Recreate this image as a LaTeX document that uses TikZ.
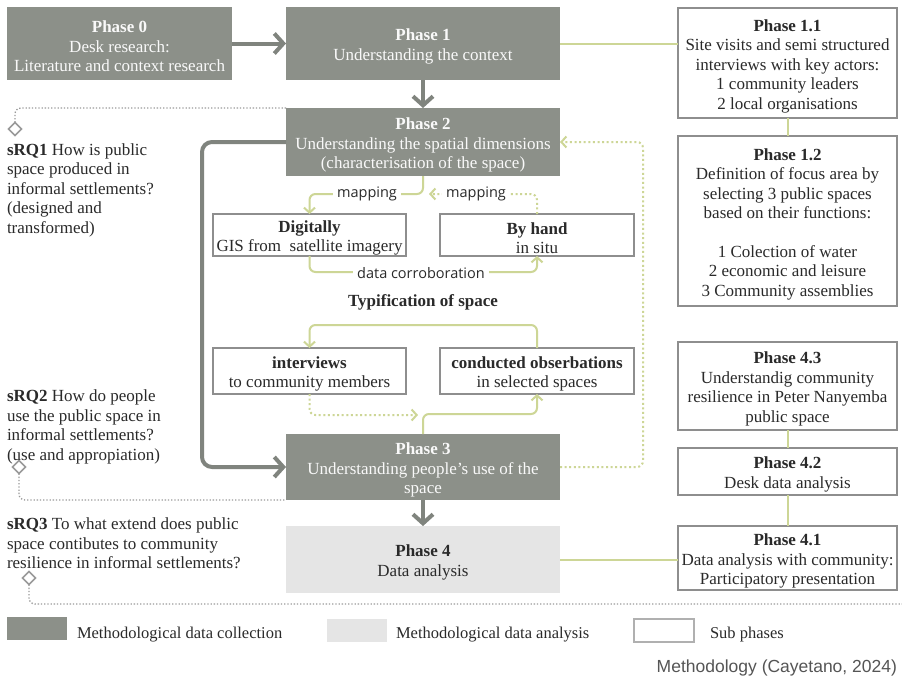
\documentclass[tikz,border=0pt]{standalone}
\usepackage{fontspec}
\setmainfont{Liberation Serif}
\newfontfamily\mapfont{Open Sans}
\newfontfamily\capfont{Liberation Sans}
\usetikzlibrary{arrows.meta,shapes.geometric}
\definecolor{dark}{HTML}{8C9089}
\definecolor{light}{HTML}{E5E5E5}
\definecolor{bord}{HTML}{8E8E8E}
\definecolor{grn}{HTML}{CDD696}
\definecolor{garr}{HTML}{80847E}
\definecolor{dtxt}{HTML}{2A2A2A}
\definecolor{dgray}{HTML}{9A9A9A}
\definecolor{captxt}{HTML}{555555}
\newcommand\topgap{\rule{0pt}{18pt}}
\begin{document}
\begin{tikzpicture}[x=1pt,y=-1pt,
  every node/.style={inner sep=0pt, outer sep=0pt},
  basefont/.style={font=\fontsize{17}{19.5}\selectfont, align=center},
  darkbox/.style={basefont, fill=dark, text=white!95!dark},
  lightbox/.style={basefont, fill=light, text=dtxt},
  subbox/.style={basefont, draw=bord, line width=2pt, fill=white, text=dtxt},
  gline/.style={draw=grn, line width=2pt, rounded corners=6pt},
  gdot/.style={draw=grn, line width=2pt, dash pattern=on 2pt off 2.6pt, rounded corners=6pt},
  gtip/.style={-{Straight Barb[length=5pt,width=11pt]}},
  grayarr/.style={draw=garr, line width=4pt, -{Straight Barb[length=9pt,width=20pt]}},
  rqdot/.style={draw=dgray, line width=1.3pt, dash pattern=on 1.3pt off 1.9pt, rounded corners=6pt},
  dia/.style={diamond, draw=dgray, line width=1.5pt, fill=white, minimum width=13pt, minimum height=13pt},
  rq/.style={basefont, align=left, anchor=north west, text=dtxt},
  maplbl/.style={font=\mapfont\fontsize{14.5}{17}\selectfont, fill=white, text=dtxt, inner xsep=4pt, inner ysep=2pt},
  legtxt/.style={font=\fontsize{16.5}{19}\selectfont, anchor=base west, text=dtxt},
]
\useasboundingbox (0,0) rectangle (902,678);
\fill[white] (0,0) rectangle (902,678);

% main phases
\node[darkbox, minimum width=225, minimum height=73] (p0) at (119.5,43.5) {\topgap\textbf{Phase 0}\\Desk research:\\Literature and context research};
\node[darkbox, minimum width=274, minimum height=73] (p1) at (423,43.5) {\topgap\textbf{Phase 1}\\Understanding the context};
\node[darkbox, minimum width=274, minimum height=68] (p2) at (423,142) {\topgap\textbf{Phase 2}\\Understanding the spatial dimensions\\(characterisation of the space)};
\node[darkbox, minimum width=274, minimum height=66] (p3) at (423,467) {\topgap\textbf{Phase 3}\\Understanding people's use of the\\space};
\node[lightbox, minimum width=274, minimum height=67] (p4) at (423,559.5) {\topgap\textbf{Phase 4}\\Data analysis};

% sub phases
\node[subbox, minimum width=219, minimum height=110] (p11) at (787.5,63) {\topgap\textbf{Phase 1.1}\\Site visits and semi structured\\interviews with key actors:\\1 community leaders\\2 local organisations};
\node[subbox, minimum width=219, minimum height=170] (p12) at (787.5,221) {\topgap\textbf{Phase 1.2}\\Definition of focus area by\\selecting 3 public spaces\\based on their functions:\\[19pt]1 Colection of water\\2 economic and leisure\\3 Community assemblies};
\node[subbox, minimum width=219, minimum height=88] (p43) at (787.5,386) {\topgap\textbf{Phase 4.3}\\Understandig community\\resilience in Peter Nanyemba\\public space};
\node[subbox, minimum width=219, minimum height=47] (p42) at (787.5,471.5) {\topgap\textbf{Phase 4.2}\\Desk data analysis};
\node[subbox, minimum width=219, minimum height=64] (p41) at (787.5,558) {\topgap\textbf{Phase 4.1}\\Data analysis with community:\\Participatory presentation};

% inner boxes
\node[subbox, minimum width=193, minimum height=42] (dig) at (309.5,235) {\topgap\textbf{Digitally}\\GIS from\ \ satellite imagery};
\node[subbox, minimum width=194, minimum height=42] (hand) at (537,235) {\topgap\textbf{By hand}\\in situ};
\node[subbox, minimum width=193, minimum height=46] (intv) at (309.5,371) {\topgap\textbf{interviews}\\to community members};
\node[subbox, minimum width=194, minimum height=46] (obs) at (537,371) {\topgap\textbf{conducted obserbations}\\in selected spaces};
\node[font=\bfseries\fontsize{17}{19.5}\selectfont, text=dtxt] (typ) at (423,302) {Typification of space};

% gray arrows
\draw[grayarr] (p0.east) -- (p1.west);
\draw[grayarr] (p1.south) -- (p2.north);
\draw[grayarr] (p3.south) -- (p4.north);
\draw[grayarr, rounded corners=10pt] (p2.west) -- ([xshift=-84pt]p2.west) |- (p3.west);

% green connectors
\draw[gline] (p1.east) -- (p1.east -| p11.west);
\draw[gline] (p11.south) -- (p12.north);
\draw[gline] (p43.south) -- (p42.north);
\draw[gline] (p42.south) -- (p41.north);
\draw[gline] (p4.east) -- (p4.east -| p41.west);
\draw[gline, gtip] (p2.south) -- ++(0,18) -| (dig.north);
\coordinate (m2end) at (429,194);
\draw[gdot, gtip] (hand.north) |- (m2end);
\draw[gline, gtip] (dig.south) -- ++(0,16) -| (hand.south);
\draw[gline, gtip] (obs.north) -- ++(0,-23) -| (intv.north);
\coordinate (dend) at (418,415);
\draw[gdot, gtip] (intv.south) |- (dend);
\draw[gline, gtip] (p3.north) -- ++(0,-20) -| (obs.south);
\draw[gdot, gtip] (p3.east) -- ++(83,0) |- (p2.east);

% labels on connectors
\node[maplbl] (m1) at (367,194) {mapping};
\node[maplbl] (m2) at (476,194) {mapping};
\node[maplbl] (dc) at (421,273) {data corroboration};

% research questions
\node[dia] (d1) at (15,129) {};
\draw[rqdot] (d1.north) |- (p2.north west);
\node[dia] (d2) at (19,467) {};
\draw[rqdot] (d2.south) |- (p3.south west);
\node[dia] (d3) at (29,578) {};
\coordinate (e3) at (902,604);
\draw[rqdot] (d3.south) |- (e3);

\node[rq] (q1) at (7,143.5) {\textbf{sRQ1} How is public\\space produced in\\informal settlements?\\(designed and\\transformed)};
\node[rq] (q2) at (7,390) {\textbf{sRQ2} How do people\\use the public space in\\informal settlements?\\(use and appropiation)};
\node[rq] (q3) at (7,518) {\textbf{sRQ3} To what extend does public\\space contibutes to community\\resilience in informal settlements?};

% legend
\node[fill=dark, minimum width=60, minimum height=23] (lg1) at (37,628.5) {};
\node[legtxt] (lt1) at (77,638.5) {Methodological data collection};
\node[fill=light, minimum width=60, minimum height=23] (lg2) at (357,630.5) {};
\node[legtxt] (lt2) at (396,638.5) {Methodological data analysis};
\node[draw=bord!70, line width=1.2pt, minimum width=60, minimum height=23] (lg3) at (664,630.5) {};
\node[legtxt] (lt3) at (710,638.5) {Sub phases};
\node[font=\capfont\fontsize{17.5}{20}\selectfont, text=captxt, anchor=base east] (cap) at (897,672) {Methodology (Cayetano, 2024)};
\end{tikzpicture}
\end{document}
